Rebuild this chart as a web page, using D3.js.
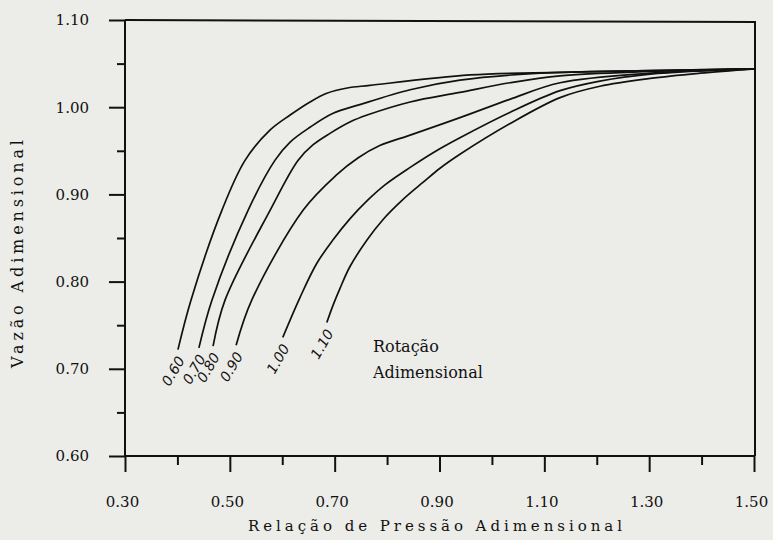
<!DOCTYPE html>
<html>
<head>
<meta charset="utf-8">
<script src="https://cdn.jsdelivr.net/npm/d3@7"></script>
<style>
	body { margin: 0; background: #ecece8; }
	svg { display: block; }
</style>
</head>
<body>
<div id="chart"></div>
<script>
// rotation values (curve labels)
const rotations = ['0.60', '0.70', '0.80', '0.90', '1.00', '1.10'];

// pressure ratio (x) and flow (y)
const press060 = [0.401, 0.426, 0.485, 0.529, 0.577, 0.615, 0.653, 0.685, 0.724, 0.767, 0.958, 1.130, 1.302, 1.50];
const flow060  = [0.722, 0.779, 0.882, 0.939, 0.974, 0.991, 1.006, 1.016, 1.022, 1.025, 1.037, 1.040, 1.042, 1.044];

const press070 = [0.441, 0.466, 0.535, 0.586, 0.615, 0.653, 0.697, 0.748, 0.844, 0.939, 1.092, 1.302, 1.50];
const flow070  = [0.724, 0.779, 0.882, 0.939, 0.960, 0.977, 0.993, 1.003, 1.020, 1.031, 1.039, 1.042, 1.044];

const press080 = [0.468, 0.491, 0.577, 0.630, 0.659, 0.691, 0.729, 0.762, 0.844, 0.939, 1.034, 1.130, 1.302, 1.50];
const flow080  = [0.726, 0.779, 0.882, 0.939, 0.957, 0.970, 0.983, 0.991, 1.006, 1.017, 1.028, 1.036, 1.041, 1.044];

const press090 = [0.512, 0.542, 0.640, 0.703, 0.745, 0.786, 0.844, 0.939, 1.034, 1.130, 1.302, 1.50];
const flow090  = [0.727, 0.779, 0.882, 0.922, 0.942, 0.956, 0.968, 0.988, 1.009, 1.028, 1.039, 1.044];

const press100 = [0.601, 0.634, 0.666, 0.697, 0.729, 0.764, 0.796, 0.844, 0.891, 0.939, 1.034, 1.130, 1.206, 1.302, 1.50];
const flow100  = [0.736, 0.782, 0.821, 0.848, 0.872, 0.894, 0.911, 0.931, 0.949, 0.965, 0.994, 1.019, 1.030, 1.038, 1.044];

const press110 = [0.685, 0.697, 0.710, 0.729, 0.762, 0.792, 0.830, 0.869, 0.901, 0.939, 1.034, 1.130, 1.206, 1.302, 1.397, 1.50];
const flow110  = [0.753, 0.773, 0.792, 0.817, 0.848, 0.871, 0.894, 0.914, 0.930, 0.946, 0.981, 1.011, 1.024, 1.033, 1.039, 1.044];

const xTicks = [0.30, 0.50, 0.70, 0.90, 1.10, 1.30, 1.50];
const xMinor = [0.40, 0.60, 0.80, 1.00, 1.20, 1.40];
const yTicks = [0.60, 0.70, 0.80, 0.90, 1.00, 1.10];
const yMinor = [0.65, 0.75, 0.85, 0.95, 1.05];

const series = [
	[press060, flow060], [press070, flow070], [press080, flow080],
	[press090, flow090], [press100, flow100], [press110, flow110]
].map((s, i) => ({
	label: rotations[i],
	points: s[0].map((p, j) => ({x: p, y: s[1][j]}))
}));

const width = 773, height = 540;
const x = d3.scaleLinear().domain([0.30, 1.50]).range([125, 754]);
const y = d3.scaleLinear().domain([0.60, 1.10]).range([456, 20]);

const svg = d3.select('#chart').append('svg')
	.attr('width', width)
	.attr('height', height);

svg.append('rect').attr('width', width).attr('height', height).attr('fill', '#ecece8');

const tickFont = 'DejaVu Serif, serif';

// y axis, major + minor
let yAx = svg.append('g')
	.attr('transform', `translate(${x(0.30)},0)`)
	.call(d3.axisLeft(y).tickValues(yTicks).tickSize(16).tickSizeOuter(0).tickPadding(20)
		.tickFormat(d3.format('.2f')));
yAx.select('.domain').remove();
yAx.selectAll('line').attr('stroke', '#111').attr('stroke-width', 2);
yAx.selectAll('text').attr('fill', '#111').style('font-family', tickFont).style('font-size', '15px');

let yMin = svg.append('g')
	.attr('transform', `translate(${x(0.30)},0)`)
	.call(d3.axisLeft(y).tickValues(yMinor).tickSize(8).tickFormat(''));
yMin.select('.domain').remove();
yMin.selectAll('line').attr('stroke', '#111').attr('stroke-width', 2);

// x axis, major + minor
let xAx = svg.append('g')
	.attr('transform', `translate(0,${y(0.60)})`)
	.call(d3.axisBottom(x).tickValues(xTicks).tickSize(16).tickSizeOuter(0)
		.tickFormat(d3.format('.2f')));
xAx.select('.domain').remove();
xAx.selectAll('line').attr('stroke', '#111').attr('stroke-width', 2);
xAx.selectAll('text')
	.attr('y', 51).attr('dy', 0).attr('dx', -3)
	.attr('fill', '#111')
	.style('font-family', tickFont).style('font-size', '15px');

let xMin = svg.append('g')
	.attr('transform', `translate(0,${y(0.60)})`)
	.call(d3.axisBottom(x).tickValues(xMinor).tickSize(9).tickFormat(''));
xMin.select('.domain').remove();
xMin.selectAll('line').attr('stroke', '#111').attr('stroke-width', 2);

// frame
const frame = svg.append('g').attr('stroke', '#111').attr('stroke-width', 2).attr('fill', 'none');
frame.append('line').attr('x1', x(0.30)).attr('x2', x(0.30)).attr('y1', y(1.10)).attr('y2', y(0.60));
frame.append('line').attr('x1', x(0.30)).attr('x2', x(1.50)).attr('y1', y(0.60)).attr('y2', y(0.60));
frame.append('line').attr('x1', x(0.30)).attr('x2', x(1.50) + 2).attr('y1', y(1.10)).attr('y2', y(1.10) + 2);
frame.append('line').attr('x1', x(1.50) + 1).attr('x2', x(1.50) + 1).attr('y1', y(1.10) + 2).attr('y2', y(0.60));

// curves
const line = d3.line()
	.x(d => x(d.x))
	.y(d => y(d.y))
	.curve(d3.curveCatmullRom.alpha(0.5));

svg.append('g')
	.selectAll('path')
	.data(series)
	.enter().append('path')
	.attr('d', d => line(d.points))
	.attr('fill', 'none')
	.attr('stroke', '#111')
	.attr('stroke-width', 1.7);

// curve labels
svg.append('g')
	.selectAll('text')
	.data(series)
	.enter().append('text')
	.attr('transform', d => `translate(${x(d.points[0].x) + 3},${y(d.points[0].y) + 8}) rotate(-60)`)
	.attr('text-anchor', 'end')
	.attr('dy', '0.35em')
	.style('font-family', 'DejaVu Sans, sans-serif')
	.style('font-style', 'italic')
	.style('font-size', '14px')
	.attr('fill', '#111')
	.text(d => d.label);

// legend note
const note = svg.append('text')
	.style('font-family', tickFont)
	.style('font-size', '16px')
	.attr('fill', '#111');
note.append('tspan').attr('x', 373).attr('y', 352).text('Rotação');
note.append('tspan').attr('x', 373).attr('y', 378).text('Adimensional');

// axis titles
svg.append('text')
	.attr('x', 435)
	.attr('y', 531)
	.attr('text-anchor', 'middle')
	.attr('textLength', 374)
	.attr('lengthAdjust', 'spacing')
	.style('font-family', tickFont)
	.style('font-size', '15px')
	.attr('fill', '#111')
	.text('Relação de Pressão Adimensional');

svg.append('text')
	.attr('transform', 'translate(23,254) rotate(-90)')
	.attr('text-anchor', 'middle')
	.attr('textLength', 228)
	.attr('lengthAdjust', 'spacing')
	.style('font-family', tickFont)
	.style('font-size', '16px')
	.attr('fill', '#111')
	.text('Vazão Adimensional');
</script>
</body>
</html>
